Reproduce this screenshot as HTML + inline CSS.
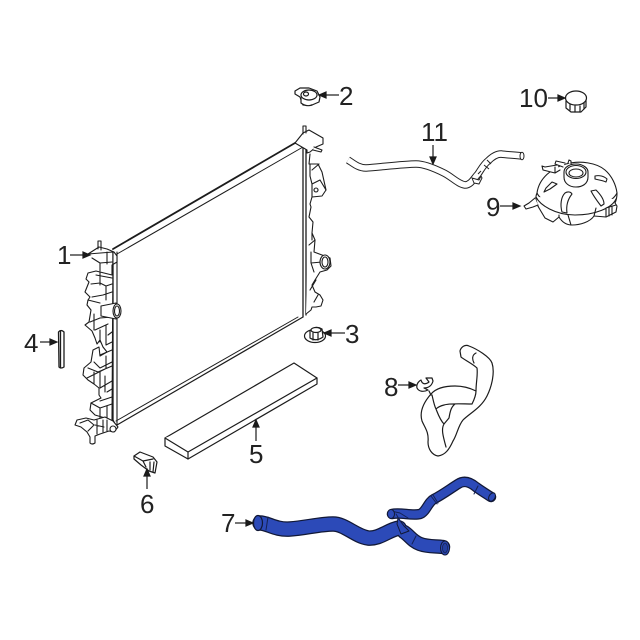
<!DOCTYPE html>
<html>
<head>
<meta charset="utf-8">
<style>
html,body{margin:0;padding:0;background:#fff;width:640px;height:640px;overflow:hidden}
svg{display:block}
text{font-family:"Liberation Sans",sans-serif;font-size:26px;fill:#222}
</style>
</head>
<body>
<svg width="640" height="640" viewBox="0 0 640 640" xmlns="http://www.w3.org/2000/svg">
<rect width="640" height="640" fill="#fff"/>
<g fill="none" stroke="#1c1c1c" stroke-width="1" stroke-linejoin="round" stroke-linecap="round">
<!-- radiator rails -->
<path d="M113 249L295 143" stroke-width="1.8"/>
<path d="M117 254L303 147"/>
<path d="M117 425L303 317" stroke-width="1.2"/>
<path d="M116 421L298 317"/>
<path d="M113 252V420L117 428" stroke-width="1.3"/>
<path d="M117 252V425" stroke-width="1.1"/>
<path d="M303 145V317M306 143V315" stroke-width="1.3"/>
<!-- left tank -->
<g fill="#fff" stroke-width="1.1">
<path d="M88 254L99 247 107 249 114 252 117 256V262L112 265 112 275 100 272 96 271 88 273 86 279 89 282 85 292 90 297 88 300 87 305 91 310 89 322 85 325 92 331 95 338 97 344 100 340 103 347 107 352 100 356 99 347 93 350 91 362 84 368 83 375 88 380 94 384 99 388 99 395 101 398 91 403 90 410 95 415 105 418 112 421 113 252Z"/>
<path d="M98 241V249M101 241V250M98 241H101"/>
<path d="M92 258L100 263 100 271M107 252L107 264M100 263L112 262M100 272V285M91 284L100 283 106 286V300M92 297L103 295 112 292M106 286L112 284M96 275L112 278M88 300L100 303M94 314V330M90 322L100 318M100 318L112 317M95 330L108 324M100 330V342M106 325V345M108 335L112 332M106 345L112 342M100 355L112 350M106 356V368M94 362L100 368 112 362M88 368L98 372 112 366M94 372V384M100 372V388M87 378L107 368M100 388L112 381M105 376V392M107 392L112 389M100 401L112 397M91 403L100 408 112 404M100 408V418M107 406V420"/>
<path d="M101 306L116 303V319L101 316Z"/>
<ellipse cx="117" cy="311" rx="4" ry="7"/>
<ellipse cx="117" cy="311" rx="2.500" ry="5"/>
<path d="M94 420L86 418 77 420 75 425 81 427 87 432 90 437V443Q92 445 95 443V436L100 434 109 431 114 432 118 427 113 421 105 417Z"/>
<path d="M80 423L88 420 94 425 88 431M95 425L104 427M97 420L97 434M103 420L103 432M107 420V431"/>
<circle cx="113" cy="429" r="3"/>
</g>
<!-- right tank -->
<g fill="#fff" stroke-width="1.1">
<path d="M295 143L303 133 309 130 323 138 323 144 316 147 310 152 307 153V150Z"/>
<path d="M303 126V134M306 126V133M303 126H306"/>
<path d="M314 147L322 150 321 152 313 150"/>
<path d="M310 154L309 164 318 164 322 172 326 190 322 196 312 197 310 204 311 207 309 217 313 222 312 233 315 240 314 252 322 255 330 258 331 266 327 270 320 272 315 280 312 285 315 292 320 295 323 300 321 306 316 307 312 307 311 310 306 314"/>
<path d="M310 164L310 176 312 184 320 180 326 190M312 184V197M319 164L312 170M316 188a2 2 0 1 0 .01 0M312 233V240M309 245L315 240M311 252V263L322 262M311 263L314 272M316 280L310 290M318 295L314 302"/>
<ellipse cx="325" cy="262" rx="5" ry="7"/>
<ellipse cx="325" cy="262" rx="3" ry="5"/>
</g>
<!-- part 2 cap -->
<g fill="#fff" stroke-width="1.2">
<path d="M295 91L300 88 309 88 317 91 320 97 319 102 312 105 303 105 300 97 295 94Z"/>
<ellipse cx="309" cy="95" rx="8" ry="5"/>
<ellipse cx="306" cy="94" rx="2.500" ry="2"/>
<path d="M301 98V103Q306 107 312 105"/>
</g>
<!-- part 3 -->
<g fill="#fff" stroke-width="1.2">
<ellipse cx="315" cy="336" rx="10.500" ry="6.500"/>
<path d="M310 331Q315 325 322 329L323 337Q316 342 310 338Z"/>
<ellipse cx="316" cy="330" rx="5" ry="2.500"/>
<path d="M313 333V340M318 333V340"/>
</g>
<!-- part 4 -->
<g fill="#fff" stroke-width="1.3">
<path d="M58.500 332Q61 329 64 332V367Q61 369 59 367Z"/>
<path d="M60.500 331V368"/>
</g>
<!-- part 5 -->
<g fill="#fff" stroke-width="1.2">
<path d="M165 438L294 363 317 378V384L188 459 165 446Z"/>
<path d="M165 438L188 452 317 378M188 452V459"/>
</g>
<!-- part 6 -->
<g fill="#fff" stroke-width="1.2">
<path d="M134 456L140 452 153 457 157 462 155 473 149 471 141 465 134 459Z"/>
<path d="M134 456L143 461 153 459M143 461L146 467M150 462L150 470M154 462L153 472"/>
</g>
<!-- part 8 hose -->
<g fill="#fff" stroke-width="1.2">
<path d="M460 351C461 347 465 344 469 346C477 349 490 357 492 363C495 372 492 386 487 396C481 408 470 413 463 420C458 426 457 435 453 441C449 450 445 455 438 456C432 455 428 449 428 442C429 432 425 428 422 421C419 411 424 402 431 394C437 387 447 386 455 386C462 386 470 388 476 391C476 382 478 375 477 368C473 364 463 359 461 357Z"/>
<path d="M476 353C472 355 472 359 474 363M476 391C476 395 474 400 472 404M472 404C463 404 450 403 444 405C440 406 438 407 436 409C434 405 433 399 432 395M436 409C438 414 440 420 444 424C441 429 443 436 446 447M444 424L449 418C450 412 451 407 455 404"/>
<path d="M426 378H432L433 381C432 385 429 388 424 388L428 390C424 392 419 392 417 388C416 384 419 381 421 380C422 384 425 385 429 382Z"/>
<path d="M429 391L431 395"/>
</g>
<!-- part 9 reservoir -->
<g fill="#fff" stroke-width="1.1">
<path d="M537 193C539 178 552 168 566 164C580 160 597 163 605 170C612 176 616 185 617 193C617 198 616 201 615 203L617 206 616 212 606 217 594 216C590 222 580 225 572 225C566 225 562 222 559 217L553 222 545 218 539 208C536 203 535 197 537 193Z"/>
<path d="M537 193C540 200 555 209 575 209C595 209 612 203 617 193"/>
<path d="M536 197C540 205 555 215 575 215C595 215 612 208 616 199"/>
<path d="M568 215L571 225M559 217V215M594 216L596 208"/>
<path d="M606 217V208L616 205M609 207V216M612 206V215"/>
<path d="M557 165L545 167 542 166 543 170 555 173 560 170M555 167V173"/>
<path d="M565 163L556 161 555 164 563 167M568 163L569 160 571 161 571 164"/>
<path d="M564 172C564 167 570 164 576 164C583 164 588 168 588 172V177C588 184 582 187 576 187C569 187 564 183 564 177Z"/>
<ellipse cx="576" cy="172" rx="10" ry="6.500"/>
<ellipse cx="576" cy="173" rx="7" ry="4"/>
<path d="M546 188L552 182 557 184 550 189 544 192ZM562 212C560 205 561 197 565 193 568 191 571 192 572 194 568 199 566 206 567 213ZM591 191L596 190C600 194 604 199 604 204L601 206C598 202 594 197 591 191ZM595 176C599 175 604 176 607 179L606 182C602 180 598 180 595 179Z"/>
<path d="M535 198L529 203 524 206 526 209 533 207 538 205"/>
</g>
<!-- part 10 cap -->
<g fill="#fff" stroke-width="1.2">
<path d="M566 101V108L571 112H581L586 107V100"/>
<ellipse cx="576" cy="98" rx="10.500" ry="7"/>
<path d="M570 104V110M575 106V112M580 106V112M584 103V109"/>
</g>
</g>
<!-- part 11 hose -->
<g fill="none" stroke-linecap="butt" stroke-linejoin="round">
<path id="h11" d="M348 160C353 163 358 168 366 168C380 167 405 164 416 164C425 164 436 169 444 173C452 177 458 184 465 185C471 185 474 178 478 174C482 168 484 164 488 161C492 157 497 154 501 154C508 155 515 155 522 156" stroke="#222" stroke-width="7.500"/>
<path d="M348 160C353 163 358 168 366 168C380 167 405 164 416 164C425 164 436 169 444 173C452 177 458 184 465 185C471 185 474 178 478 174C482 168 484 164 488 161C492 157 497 154 501 154C508 155 515 155 522 156" stroke="#fff" stroke-width="5.500"/>
<path d="M484 165L489 169M487 160L491 164M478 174L481 171" stroke="#222" stroke-width="1"/>
<path d="M472 178L479 180 481 176 482 178 479 184 474 183Z" fill="#fff" stroke="#222" stroke-width="1"/>
<ellipse cx="522" cy="156" rx="2" ry="3.800" fill="#fff" stroke="#222" stroke-width="1"/>
</g>
<!-- part 7 hose -->
<g fill="none" stroke-linejoin="round" stroke-linecap="round">
<g stroke="#111836">
<path d="M392 514C400 512 412 516 420 514C426 512 428 502 434 499C442 495 450 489 458 484C464 480 470 482 476 487C480 490 485 493 491 497" stroke-width="10.500"/>
<path d="M260 523C268 523 275 530 290 529C305 528 320 524 333 524C345 524 355 536 368 538C380 539 388 530 399 528" stroke-width="15.500"/>
<path d="M404 532C410 536 412 541 420 544C428 547 436 546 443 547" stroke-width="14.500"/>
</g>
<g stroke="#2c4ab8">
<path d="M392 514C400 512 412 516 420 514C426 512 428 502 434 499C442 495 450 489 458 484C464 480 470 482 476 487C480 490 485 493 491 497" stroke-width="8"/>
<path d="M260 523C268 523 275 530 290 529C305 528 320 524 333 524C345 524 355 536 368 538C380 539 388 530 399 528" stroke-width="13"/>
<path d="M404 532C410 536 412 541 420 544C428 547 436 546 443 547" stroke-width="12"/>
</g>
<path d="M398 518L404 526 409 531 401 534 397 524Z" fill="#2c4ab8" stroke="#111836"/>
<path d="M391 511L400 513 408 518M396 514L401 522" stroke="#142155" fill="none"/>
<g stroke="#142155" stroke-width="1" fill="none">
<path d="M268 517L266 530M431 496L437 504M433 495L438 503M478 486L474 494M416 536L412 544"/>
</g>
<ellipse cx="258" cy="523" rx="4.500" ry="7.500" fill="#2c4ab8" stroke="#111836" stroke-width="1.200"/>
<ellipse cx="445" cy="548" rx="4.500" ry="7" fill="#2c4ab8" stroke="#111836"/>
<ellipse cx="445" cy="548" rx="2.500" ry="5" fill="#243f9f" stroke="#111836" stroke-width=".6"/>
<ellipse cx="391" cy="514" rx="3.500" ry="4.500" fill="#2c4ab8" stroke="#111836"/>
<ellipse cx="492" cy="497" rx="3" ry="4.500" transform="rotate(30 492 497)" fill="#2c4ab8" stroke="#111836"/>
</g>
<!-- leader arrows -->
<g stroke="#1a1a1a" stroke-width="1.200" fill="#1a1a1a">
<path d="M70 255H85"/><path d="M90 255L83 252V258Z"/>
<path d="M339 95H324"/><path d="M319 95L326 92V98Z"/>
<path d="M345 333H329"/><path d="M324 333L331 330V336Z"/>
<path d="M40 342H52"/><path d="M57 342L50 339V345Z"/>
<path d="M256 441V425"/><path d="M256 420L253 427H259Z"/>
<path d="M147 489V474"/><path d="M147 469L144 476H150Z"/>
<path d="M235 523H248"/><path d="M253 523L246 520V526Z"/>
<path d="M398 385H411"/><path d="M416 385L409 382V388Z"/>
<path d="M500 206H514"/><path d="M520 206L513 203V209Z"/>
<path d="M548 98H560"/><path d="M565 98L558 95V101Z"/>
<path d="M433 145V159"/><path d="M433 164L430 157H436Z"/>
</g>
<text x="57" y="264">1</text>
<text x="339" y="105">2</text>
<text x="345" y="343">3</text>
<text x="24" y="352">4</text>
<text x="249" y="463">5</text>
<text x="140" y="513">6</text>
<text x="221" y="532">7</text>
<text x="384" y="396">8</text>
<text x="486" y="216">9</text>
<text x="519" y="107">10</text>
<text x="421" y="141">11</text>
</svg>
</body>
</html>
